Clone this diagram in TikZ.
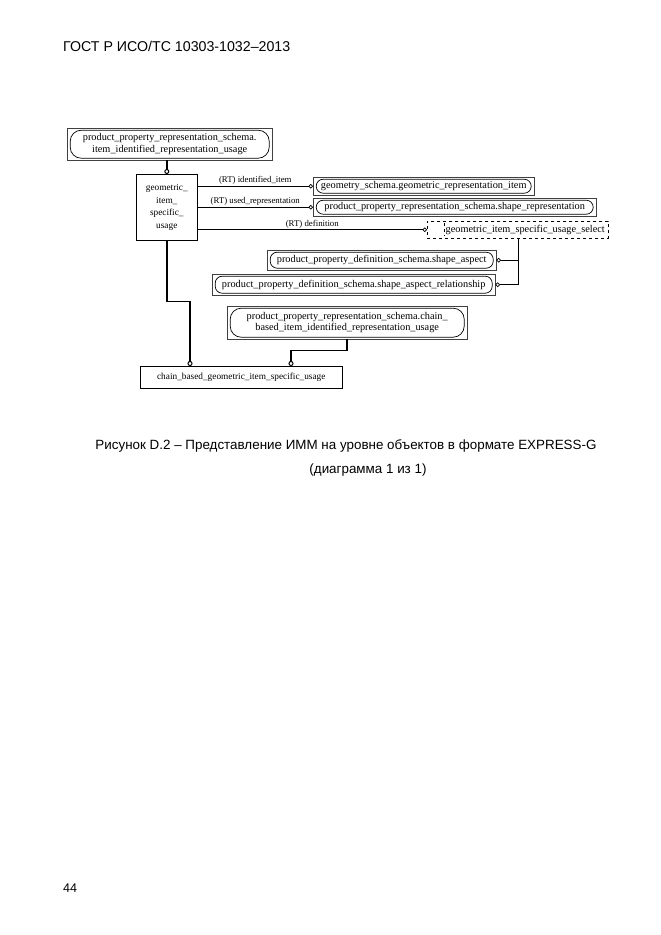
\documentclass[tikz,border=0pt]{standalone}
\usepackage{fontspec}
\setmainfont{Liberation Serif}
\newfontfamily\gostfont{Liberation Sans}
\usetikzlibrary{positioning,arrows.meta,calc}
\tikzset{
  entity/.style={rectangle, draw, line width=0.6pt, align=center,
                 font=\fontsize{9.3}{12.5}\selectfont, inner sep=0pt},
  extref/.style={rectangle, draw=black!75, line width=0.4pt, align=center,
                 font=\fontsize{10.3}{11.5}\selectfont, inner sep=0pt,
                 path picture={\draw[black, line width=0.7pt, rounded corners=#1]
                   ($(path picture bounding box.south west)+(3pt,2pt)$) rectangle
                   ($(path picture bounding box.north east)+(-3pt,-2pt)$);}},
  extref/.default=7pt,
  selectbox/.style={rectangle, draw, dashed, line width=0.5pt, align=right,
                 font=\fontsize{10.3}{11.5}\selectfont, inner xsep=3pt, inner ysep=0pt,
                 path picture={\draw[dashed, line width=0.5pt]
                   ($(path picture bounding box.north west)+(17pt,-2pt)$) --
                   ($(path picture bounding box.south west)+(17pt,2pt)$);}},
  rel/.style={line width=0.7pt, -{Circle[open, length=4.5pt, line width=0.7pt]}},
  subrel/.style={line width=1.6pt, -{Circle[open, length=5pt, line width=1pt]}},
  rolelabel/.style={font=\fontsize{8.8}{10}\selectfont, inner sep=1.5pt},
  pagetext/.style={font=\gostfont\fontsize{13.4}{16}\selectfont, inner sep=0pt}
}
\begin{document}
\begin{tikzpicture}[x=1pt, y=-1pt]
\useasboundingbox (0,0) rectangle (661,935);

% page header, caption and number
\node[pagetext, font=\gostfont\fontsize{14.2}{17}\selectfont, anchor=west] (hdr) at (63,46) {ГОСТ Р ИСО/ТС 10303-1032–2013};
\node[pagetext] (cap1) at (346,446) {Рисунок D.2 – Представление ИММ на уровне объектов в формате EXPRESS-G};
\node[pagetext] (cap2) at (368,470) {(диаграмма 1 из 1)};
\node[pagetext, font=\gostfont\fontsize{12.5}{15}\selectfont, anchor=west] (pno) at (63,888) {44};

% entities
\node[entity, minimum width=61pt, minimum height=66pt, anchor=north west] (gisu) at (136,174)
  {geometric\_\\item\_\\specific\_\\usage};
\node[entity, minimum width=202pt, minimum height=22pt, anchor=north west] (cgisu) at (140,366)
  {chain\_based\_geometric\_item\_specific\_usage};

% external references
\node[extref=11pt, minimum width=205pt, minimum height=32pt, anchor=north west] (piru) at (67,128)
  {product\_property\_representation\_schema.\\item\_identified\_representation\_usage};
\node[extref, minimum width=221pt, minimum height=18pt, anchor=north west] (gri) at (313,177)
  {geometry\_schema.geometric\_representation\_item};
\node[extref, minimum width=283pt, minimum height=18pt, anchor=north west] (srep) at (313,198)
  {product\_property\_representation\_schema.shape\_representation};
\node[extref, minimum width=229pt, minimum height=20pt, anchor=north west] (sa) at (267,250)
  {product\_property\_definition\_schema.shape\_aspect};
\node[extref, minimum width=283pt, minimum height=21pt, anchor=north west] (sar) at (212,274)
  {product\_property\_definition\_schema.shape\_aspect\_relationship};
\node[extref=11pt, minimum width=240pt, minimum height=33pt, anchor=north west] (cbiru) at (227,306)
  {product\_property\_representation\_schema.chain\_\\based\_item\_identified\_representation\_usage};

% select type
\node[selectbox, minimum width=181pt, minimum height=17pt, text width=174pt, anchor=north west] (gsel) at (427,221)
  {geometric\_item\_specific\_usage\_select};

% attributes
\draw[rel] (gisu.east |- gri.west) -- (gri.west)
  node[rolelabel, midway, above] {(RT) identified\_item};
\draw[rel] (gisu.east |- srep.west) -- (srep.west)
  node[rolelabel, midway, above] {(RT) used\_representation};
\draw[rel] (gisu.east |- gsel.west) -- (gsel.west)
  node[rolelabel, midway, above] {(RT) definition};

% select branches
\coordinate (selfoot) at ($(gsel.south west)+(91pt,0)$);
\draw[rel] (selfoot) |- (sar.east);
\draw[rel] (selfoot |- sa.east) -- (sa.east);

% subtypes
\draw[subrel] (gisu.north |- piru.south) -- (gisu.north);
\draw[subrel] (gisu.south) -- ++(0,61) -| ($(cgisu.north west)+(50pt,0)$);
\draw[subrel] (cbiru.south) -- ++(0,11) -| ($(cgisu.north west)+(151pt,0)$);
\end{tikzpicture}
\end{document}
